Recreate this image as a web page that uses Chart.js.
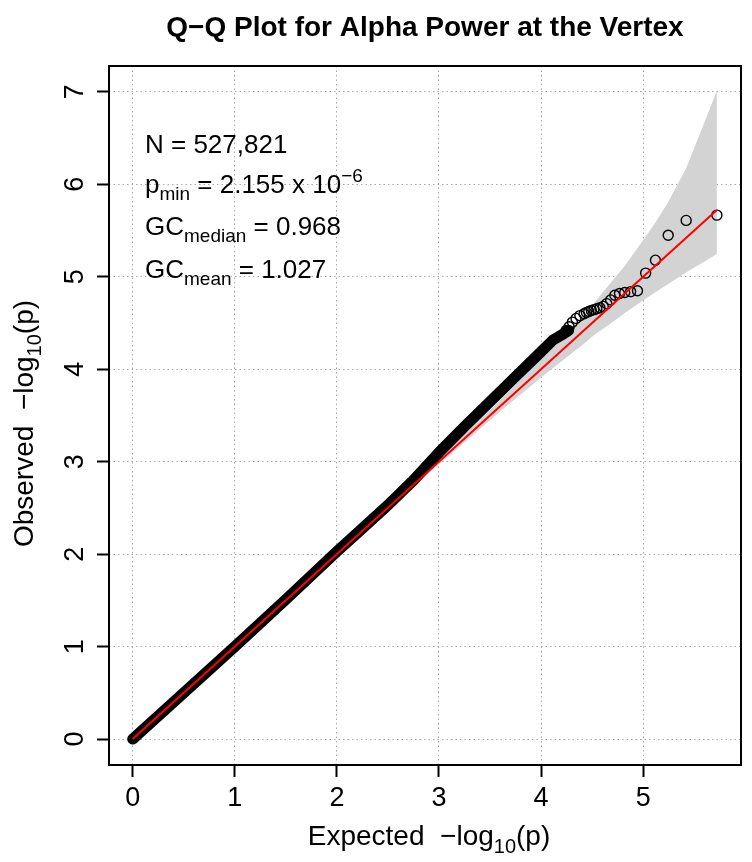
<!DOCTYPE html>
<html>
<head>
<meta charset="utf-8">
<script src="https://cdn.jsdelivr.net/npm/chart.js@4.4.1/dist/chart.umd.min.js"></script>
<style>
  html, body { margin: 0; padding: 0; background: #fff; }
  canvas { display: block; }
</style>
</head>
<body>
<canvas id="qqChart" width="752" height="862"></canvas>
<script>
// expected vs observed -log10(p)
// dense part of the curve (thousands of overlapping points)
const denseExpected = [0, 0.5, 1.0, 1.5, 2.0, 2.25, 2.5, 2.75, 3.0, 3.25, 3.5, 3.75, 4.0, 4.12, 4.2, 4.27];
const denseObserved = [0, 0.5, 1.0, 1.51, 2.03, 2.28, 2.53, 2.8, 3.1, 3.38, 3.65, 3.92, 4.19, 4.32, 4.37, 4.42];

// the top-ranked SNPs, drawn as single open circles
const tailExpected = [5.722, 5.421, 5.245, 5.120, 5.024, 4.944, 4.877, 4.819, 4.768, 4.722, 4.681, 4.643, 4.609,
                      4.576, 4.546, 4.518, 4.492, 4.467, 4.444, 4.421, 4.380, 4.342, 4.307, 4.275, 4.245];
const tailObserved = [5.667, 5.61, 5.45, 5.18, 5.04, 4.85, 4.84, 4.83, 4.82, 4.80, 4.75, 4.71, 4.68,
                      4.665, 4.655, 4.645, 4.635, 4.625, 4.615, 4.60, 4.58, 4.55, 4.51, 4.46, 4.42];

// confidence band (grey)
const bandExpected = [0, 1.0, 2.0, 2.5, 2.72, 3.02, 3.22, 3.42, 3.62, 3.72, 3.92, 4.02, 4.245, 4.42, 4.52,
                      4.72, 4.82, 5.02, 5.12, 5.245, 5.42, 5.722];
const bandUpper = [0, 1.002, 2.01, 2.518, 2.745, 3.056, 3.264, 3.474, 3.689, 3.798, 4.019, 4.133, 4.389, 4.600, 4.718,
                   4.988, 5.120, 5.428, 5.587, 5.810, 6.172, 7.012];
const bandLower = [0, 0.998, 1.99, 2.483, 2.700, 2.992, 3.182, 3.373, 3.561, 3.654, 3.837, 3.930, 4.124, 4.277, 4.370,
                   4.526, 4.609, 4.761, 4.833, 4.923, 5.046, 5.246];

// y = x reference line
const refLine = [0, 5.722];

const xTicks = [0, 1, 2, 3, 4, 5];
const yTicks = [0, 1, 2, 3, 4, 5, 6, 7];

const chartTitle = 'Q\u2212Q Plot for Alpha Power at the Vertex';
const statN = '527,821';
const statPmin = '2.155 x 10';
const statPminExp = '\u22126';
const statGcMedian = '0.968';
const statGcMean = '1.027';

const FONT = '"Liberation Sans", Arial, Helvetica, sans-serif';

function pts(xs, ys) {
    return xs.map((x, i) => ({x: x, y: ys[i]}));
}

// draw text made of normal / subscript / superscript pieces
function drawRich(ctx, parts, x, y, size, align) {
    const small = Math.round(size * 0.72);
    let total = 0;
    parts.forEach(p => {
        ctx.font = (p.sub || p.sup ? small : size) + 'px ' + FONT;
        total += ctx.measureText(p.t).width;
    });
    if (align === 'center') x -= total / 2;
    ctx.textAlign = 'left';
    ctx.textBaseline = 'alphabetic';
    parts.forEach(p => {
        const s = p.sub || p.sup ? small : size;
        ctx.font = s + 'px ' + FONT;
        let dy = 0;
        if (p.sub) dy = size * 0.27;
        if (p.sup) dy = -size * 0.42;
        ctx.fillText(p.t, x, y + dy);
        x += ctx.measureText(p.t).width;
    });
}

const extras = {
    id: 'extras',
    afterDraw(chart) {
        const ctx = chart.ctx;
        const a = chart.chartArea;
        ctx.save();
        // box round the plot
        ctx.strokeStyle = '#000';
        ctx.lineWidth = 2;
        ctx.strokeRect(a.left, a.top, a.right - a.left, a.bottom - a.top);

        ctx.fillStyle = '#000';
        // statistics
        const tx = a.left + 36;
        drawRich(ctx, [{t: 'N = ' + statN}], tx, a.top + 87, 26);
        drawRich(ctx, [{t: 'p'}, {t: 'min', sub: true}, {t: ' = ' + statPmin}, {t: statPminExp, sup: true}], tx, a.top + 127, 26);
        drawRich(ctx, [{t: 'GC'}, {t: 'median', sub: true}, {t: ' = ' + statGcMedian}], tx, a.top + 169, 26);
        drawRich(ctx, [{t: 'GC'}, {t: 'mean', sub: true}, {t: ' = ' + statGcMean}], tx, a.top + 212, 26);

        // axis titles
        drawRich(ctx, [{t: 'Expected  \u2212log'}, {t: '10', sub: true}, {t: '(p)'}], (a.left + a.right) / 2 + 4, 845, 28, 'center');
        ctx.translate(33, (a.top + a.bottom) / 2 + 8);
        ctx.rotate(-Math.PI / 2);
        drawRich(ctx, [{t: 'Observed  \u2212log'}, {t: '10', sub: true}, {t: '(p)'}], 0, 0, 28, 'center');
        ctx.restore();
    }
};

const gridOpts = {
    color: '#a8a8a8',
    lineWidth: 1,
    tickLength: 12,
    tickColor: '#000',
    tickWidth: 2,
    tickBorderDash: []
};

new Chart(document.getElementById('qqChart').getContext('2d'), {
    type: 'scatter',
    data: {
        datasets: [
            {
                label: 'y = x',
                data: pts(refLine, refLine),
                showLine: true,
                borderColor: '#ff0000',
                borderWidth: 2,
                pointRadius: 0,
                order: 1
            },
            {
                label: 'top SNPs',
                data: pts(tailExpected, tailObserved),
                showLine: false,
                pointStyle: 'circle',
                pointRadius: 5,
                borderColor: '#000',
                borderWidth: 1.4,
                backgroundColor: 'rgba(0,0,0,0)',
                order: 2
            },
            {
                label: 'all SNPs',
                data: pts(denseExpected, denseObserved),
                showLine: true,
                borderColor: '#000',
                borderWidth: 11,
                borderCapStyle: 'round',
                borderJoinStyle: 'round',
                pointRadius: 0,
                order: 3
            },
            {
                label: 'upper',
                data: pts(bandExpected, bandUpper),
                showLine: true,
                borderWidth: 0,
                borderColor: 'rgba(0,0,0,0)',
                backgroundColor: '#d3d3d3',
                pointRadius: 0,
                fill: '+1',
                order: 5
            },
            {
                label: 'lower',
                data: pts(bandExpected, bandLower),
                showLine: true,
                borderWidth: 0,
                borderColor: 'rgba(0,0,0,0)',
                pointRadius: 0,
                fill: false,
                order: 4
            }
        ]
    },
    options: {
        responsive: false,
        animation: false,
        layout: { padding: { left: 0, right: 11, top: 0, bottom: 0 } },
        plugins: {
            legend: { display: false },
            tooltip: { enabled: false },
            title: {
                display: true,
                text: chartTitle,
                fullSize: false,
                color: '#000',
                font: { family: FONT, size: 28, weight: 'bold', lineHeight: 1.2 },
                padding: { top: 11, bottom: 21.4 }
            }
        },
        scales: {
            x: {
                type: 'linear',
                min: -0.232,
                max: 5.958,
                afterBuildTicks: s => { s.ticks = xTicks.map(v => ({value: v})); },
                afterFit: s => { s.height = 97; },
                grid: gridOpts,
                border: { display: false, dash: [1.5, 3] },
                ticks: {
                    color: '#000',
                    font: { family: FONT, size: 27 },
                    padding: 5,
                    maxRotation: 0,
                    autoSkip: false
                }
            },
            y: {
                type: 'linear',
                min: -0.28,
                max: 7.28,
                afterBuildTicks: s => { s.ticks = yTicks.map(v => ({value: v})); },
                afterFit: s => { s.width = 109; },
                grid: gridOpts,
                border: { display: false, dash: [1.5, 3] },
                ticks: {
                    color: '#000',
                    font: { family: FONT, size: 27 },
                    padding: 14,
                    minRotation: 90,
                    maxRotation: 90,
                    crossAlign: 'center',
                    autoSkip: false
                }
            }
        }
    },
    plugins: [extras]
});
</script>
</body>
</html>
